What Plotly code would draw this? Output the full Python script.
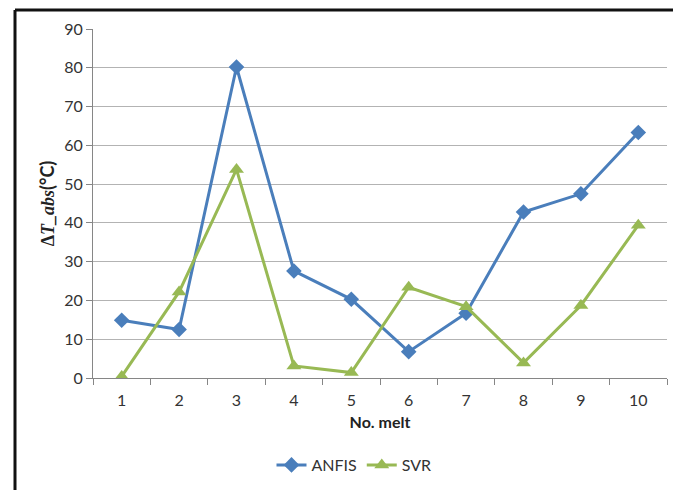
import plotly.graph_objects as go

melts = ["1", "2", "3", "4", "5", "6", "7", "8", "9", "10"]
anfis = [14.9, 12.5, 80.2, 27.6, 20.3, 6.8, 16.7, 42.8, 47.5, 63.3]
svr = [0.4, 22.2, 53.8, 3.1, 1.4, 23.4, 18.4, 3.9, 18.7, 39.4]

fig = go.Figure()
fig.add_trace(go.Scatter(x=melts, y=anfis, name="ANFIS", mode="lines+markers",
                         line=dict(color="#4A7EBB", width=3),
                         marker=dict(symbol="diamond", size=12, color="#4A7EBB")))
fig.add_trace(go.Scatter(x=melts, y=svr, name="SVR", mode="lines+markers",
                         line=dict(color="#98B954", width=3),
                         marker=dict(symbol="triangle-up", size=13, color="#98B954")))

W, H = 673, 490
L, R, T, B = 93, 6, 29, 112
pw, ph = W - L - R, H - T - B

def px(x):
    return (x - L) / pw

def py(y):
    return (H - B - y) / ph

FONT = "Lato, Open Sans, Liberation Sans, sans-serif"

ytitle = ("<b><span style='font-family:Liberation Serif'>Δ<i>T_abs</i></span>(°C)</b>")

fig.update_layout(
    width=W, height=H,
    margin=dict(l=L, r=R, t=T, b=B),
    paper_bgcolor="white", plot_bgcolor="white",
    font=dict(family=FONT, size=16, color="#333333"),
    showlegend=True,
    legend=dict(orientation="h", x=px(354), xanchor="center", y=py(465), yanchor="middle",
                font=dict(size=16, color="#333333"), itemwidth=30),
    xaxis=dict(type="category", range=[-0.5, 9.5], tickson="boundaries", ticks="outside", ticklen=6,
               tickcolor="#868686", showline=True, linecolor="#868686", linewidth=1,
               showgrid=False, ticklabelstandoff=8,
               title=dict(text="<b>No. melt</b>", font=dict(size=16, color="#222222"), standoff=8)),
    yaxis=dict(range=[0, 90], dtick=10, ticks="outside", ticklen=6, tickcolor="#868686",
               showline=True, linecolor="#868686", linewidth=1,
               showgrid=True, gridcolor="#B3B3B3", gridwidth=1, zeroline=False,
               title=dict(text=ytitle, font=dict(size=18, color="#222222"), standoff=4)),
    shapes=[
        dict(type="line", xref="paper", yref="paper", x0=px(15), x1=px(15), y0=py(10), y1=py(500),
             line=dict(color="#111111", width=3)),
        dict(type="line", xref="paper", yref="paper", x0=px(15), x1=px(680), y0=py(10), y1=py(10),
             line=dict(color="#111111", width=3)),
    ],
)

fig.write_html("out.html", config={"displayModeBar": False},
               post_script="document.body.style.margin='0';document.body.style.padding='0';")
